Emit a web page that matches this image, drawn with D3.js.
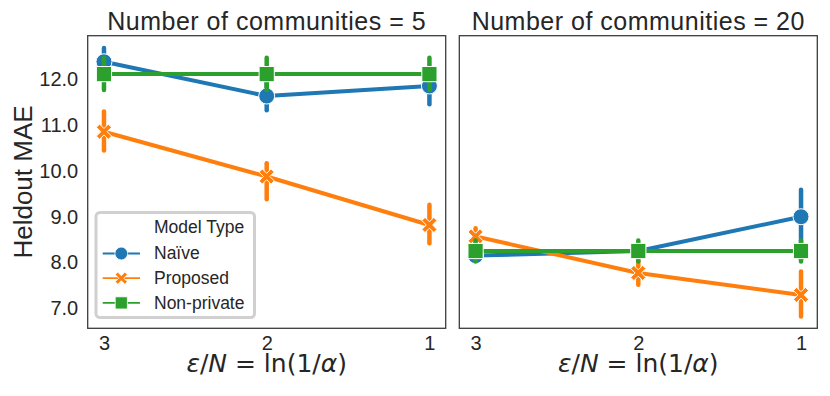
<!DOCTYPE html>
<html>
<head>
<meta charset="utf-8">
<script src="https://cdn.jsdelivr.net/npm/d3@7"></script>
<style>
  html, body { margin: 0; padding: 0; background: #fff; }
  svg { display: block; }
  text { fill: #262626; }
</style>
</head>
<body>
<svg id="chart" width="830" height="396"></svg>
<script>
// ---------- data ----------
const xLabels = ["3", "2", "1"];
const yTicks = [7, 8, 9, 10, 11, 12];
const seriesNames = ["Naïve", "Proposed", "Non-private"];
const panelTitles = ["Number of communities = 5", "Number of communities = 20"];

// communities = 5
const naive5Mean = [12.39, 11.64, 11.86];
const naive5Lo   = [12.09, 11.33, 11.46];
const naive5Hi   = [12.69, 11.95, 12.26];
const proposed5Mean = [10.86, 9.88, 8.82];
const proposed5Lo   = [10.45, 9.38, 8.42];
const proposed5Hi   = [11.30, 10.17, 9.26];
const nonpriv5Mean = [12.12, 12.12, 12.12];
const nonpriv5Lo   = [11.77, 11.77, 11.77];
const nonpriv5Hi   = [12.48, 12.48, 12.48];

// communities = 20
const naive20Mean = [8.15, 8.25, 9.00];
const naive20Lo   = [8.05, 8.10, 8.06];
const naive20Hi   = [8.25, 8.40, 9.59];
const proposed20Mean = [8.57, 7.77, 7.29];
const proposed20Lo   = [8.35, 7.51, 6.82];
const proposed20Hi   = [8.75, 8.03, 7.80];
const nonpriv20Mean = [8.25, 8.25, 8.25];
const nonpriv20Lo   = [8.02, 8.02, 8.02];
const nonpriv20Hi   = [8.48, 8.48, 8.48];

const colors = ["#1f77b4", "#ff7f0e", "#2ca02c"];
const markers = ["circle", "x", "square"];

const panelData = [
  [ {mean: naive5Mean, lo: naive5Lo, hi: naive5Hi},
    {mean: proposed5Mean, lo: proposed5Lo, hi: proposed5Hi},
    {mean: nonpriv5Mean, lo: nonpriv5Lo, hi: nonpriv5Hi} ],
  [ {mean: naive20Mean, lo: naive20Lo, hi: naive20Hi},
    {mean: proposed20Mean, lo: proposed20Lo, hi: proposed20Hi},
    {mean: nonpriv20Mean, lo: nonpriv20Lo, hi: nonpriv20Hi} ]
];

// ---------- layout ----------
const svg = d3.select("#chart");
const plotTop = 35.7, plotBottom = 328.3;
const panelX = [[87.7, 445.7], [459.3, 817.3]];
const FONT = "'Liberation Sans', Arial, sans-serif";

const y = d3.scaleLinear().domain([6.56, 12.96]).range([plotBottom, plotTop]);

function markerPath(type, s) {
  if (type === "circle") {
    return d3.symbol(d3.symbolCircle, Math.PI * s * s)();
  }
  if (type === "square") {
    return `M${-s},${-s}H${s}V${s}H${-s}Z`;
  }
  // filled X
  const a = s, t = s * 0.42;
  const pts = [[0,-t],[a-t,-a],[a,-a+t],[t,0],[a,a-t],[a-t,a],[0,t],[-a+t,a],[-a,a-t],[-t,0],[-a,-a+t],[-a+t,-a]];
  return "M" + pts.map(p => p.join(",")).join("L") + "Z";
}
const markerSize = {circle: 8, square: 7.6, x: 7.6};

panelData.forEach((series, pi) => {
  const [l, r] = panelX[pi];
  const x = d3.scalePoint().domain(xLabels).range([l, r]).padding(0.1);
  const g = svg.append("g");

  // title
  g.append("text")
    .attr("x", (l + r) / 2).attr("y", 29.5)
    .attr("text-anchor", "middle")
    .style("font-family", FONT).style("font-size", "25px").style("letter-spacing", "0.5px")
    .text(panelTitles[pi]);

  // x axis
  const xa = g.append("g").attr("transform", `translate(0,${plotBottom})`)
    .call(d3.axisBottom(x).tickSize(0).tickPadding(8));
  xa.select(".domain").remove();
  xa.selectAll("text").style("font-family", FONT).style("font-size", "20px").attr("fill", "#262626");

  if (pi === 0) {
    const ya = g.append("g").attr("transform", `translate(${l},0)`)
      .call(d3.axisLeft(y).tickValues(yTicks).tickSize(0).tickPadding(9.5).tickFormat(d3.format(".1f")));
    ya.select(".domain").remove();
    ya.selectAll("text").style("font-family", FONT).style("font-size", "20px").attr("fill", "#262626");
  }

  // x label (mathtext-like)
  const xl = g.append("text")
    .attr("x", (l + r) / 2).attr("y", 372)
    .attr("text-anchor", "middle")
    .style("font-family", "'DejaVu Sans', sans-serif").style("font-size", "25px");
  xl.append("tspan").style("font-style", "italic").text("ε");
  xl.append("tspan").text("/");
  xl.append("tspan").style("font-style", "italic").text("N");
  xl.append("tspan").text(" = ln(1/");
  xl.append("tspan").style("font-style", "italic").text("α");
  xl.append("tspan").text(")");

  // series
  series.forEach((s, si) => {
    const c = colors[si];
    const sg = g.append("g");
    // error bars
    sg.selectAll("line.err").data(xLabels).join("line")
      .attr("class", "err")
      .attr("x1", d => x(d)).attr("x2", d => x(d))
      .attr("y1", (d, i) => y(s.lo[i])).attr("y2", (d, i) => y(s.hi[i]))
      .attr("stroke", c).attr("stroke-width", 4.5).attr("stroke-linecap", "round");
    // line
    const line = d3.line().x((d, i) => x(xLabels[i])).y(d => y(d));
    sg.append("path").datum(s.mean).attr("d", line)
      .attr("fill", "none").attr("stroke", c).attr("stroke-width", 4)
      .attr("stroke-linejoin", "round").attr("stroke-linecap", "round");
    // markers
    sg.selectAll("path.m").data(s.mean).join("path")
      .attr("class", "m")
      .attr("transform", (d, i) => `translate(${x(xLabels[i])},${y(d)})`)
      .attr("d", markerPath(markers[si], markerSize[markers[si]]))
      .attr("fill", c).attr("stroke", "#fff").attr("stroke-width", 1);
  });

  // spines
  g.append("rect").attr("x", l).attr("y", plotTop).attr("width", r - l).attr("height", plotBottom - plotTop)
    .attr("fill", "none").attr("stroke", "#3c3c3c").attr("stroke-width", 1.3);
});

// y label
svg.append("text")
  .attr("transform", `translate(31.5,${(plotTop + plotBottom) / 2}) rotate(-90)`)
  .attr("text-anchor", "middle")
  .style("font-family", FONT).style("font-size", "26px")
  .text("Heldout MAE");

// legend
const lg = svg.append("g");
lg.append("rect").attr("x", 96).attr("y", 212.5).attr("width", 158.5).attr("height", 105)
  .attr("rx", 4).attr("fill", "#fff").attr("stroke", "#d0d0d0").attr("stroke-width", 3);
lg.append("text").attr("x", 154).attr("y", 233.3)
  .style("font-family", FONT).style("font-size", "17.5px").text("Model Type");
seriesNames.forEach((name, i) => {
  const cy = 253.5 + i * 24.7;
  lg.append("line").attr("x1", 102.7).attr("x2", 140).attr("y1", cy).attr("y2", cy)
    .attr("stroke", colors[i]).attr("stroke-width", 1.8);
  lg.append("path").attr("transform", `translate(121.3,${cy})`)
    .attr("d", markerPath(markers[i], markerSize[markers[i]] * 0.8))
    .attr("fill", colors[i]).attr("stroke", "#fff").attr("stroke-width", 0.8);
  lg.append("text").attr("x", 154).attr("y", cy + 5.8)
    .style("font-family", FONT).style("font-size", "17.5px").text(name);
});
</script>
</body>
</html>
